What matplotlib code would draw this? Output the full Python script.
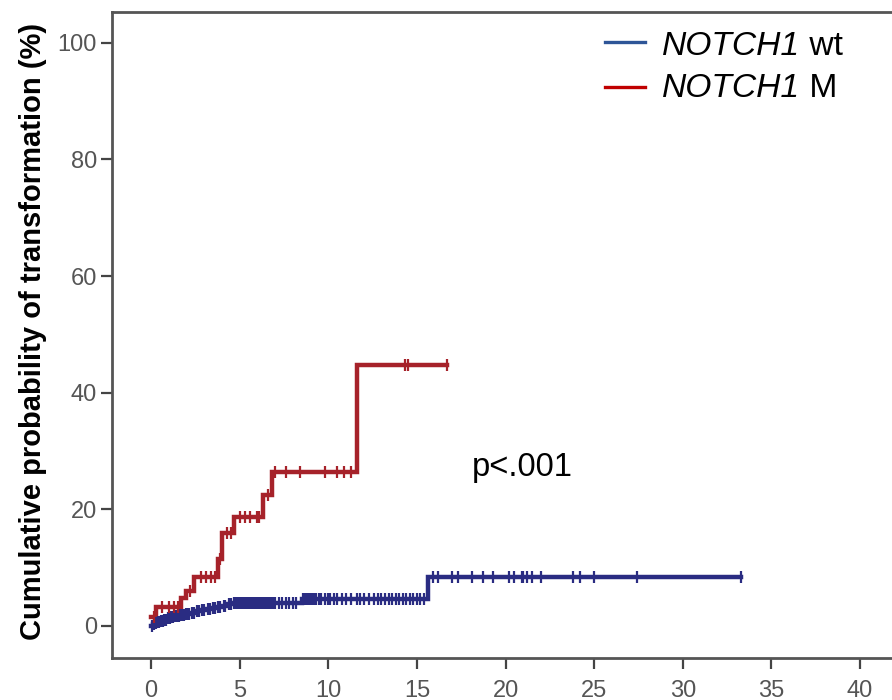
import matplotlib
matplotlib.use("Agg")
import matplotlib.pyplot as plt
import numpy as np

plt.rcParams['font.family'] = ['Liberation Sans', 'DejaVu Sans']

# NOTCH1 wt (blue) step curve: event times (years) and cumulative probability (%)
wt_times = [0.0, 0.1, 0.2, 0.35, 0.5, 0.7, 0.9, 1.1, 1.3, 1.6, 1.9, 2.2, 2.5, 2.8, 3.1, 3.4, 3.7, 4.0, 4.3, 4.6, 8.5, 15.6, 33.3]
wt_values = [0.0, 0.3, 0.5, 0.7, 0.9, 1.1, 1.3, 1.5, 1.7, 1.9, 2.1, 2.3, 2.5, 2.7, 2.9, 3.1, 3.3, 3.5, 3.7, 4.0, 4.7, 8.4, 8.4]
wt_censor = [0.05, 0.15, 0.25, 0.3, 0.4, 0.45, 0.55, 0.6, 0.65, 0.75, 0.8, 0.85, 0.95, 1.0, 1.05,
             1.15, 1.2, 1.25, 1.35, 1.4, 1.5, 1.55, 1.65, 1.7, 1.8, 1.85, 2.0, 2.1, 2.15, 2.3, 2.4,
             2.6, 2.7, 2.9, 3.0, 3.2, 3.3, 3.5, 3.6, 3.8, 3.9, 4.1, 4.2, 4.4, 4.5, 4.7, 4.8, 4.9,
             5.0, 5.1, 5.2, 5.3, 5.4, 5.5, 5.6, 5.7, 5.8, 5.9, 6.0, 6.1, 6.2, 6.3, 6.4, 6.5, 6.6,
             6.7, 6.8, 6.9, 7.0, 7.2, 7.4, 7.6, 7.8, 8.0, 8.2, 8.6, 8.7, 8.8, 8.9, 9.0, 9.1, 9.2,
             9.3, 9.5, 9.6, 9.8, 10.0, 10.1, 10.3, 10.5, 10.8, 11.0, 11.3, 11.6, 11.8, 12.0, 12.3,
             12.6, 12.8, 13.0, 13.2, 13.4, 13.6, 13.8, 14.0, 14.2, 14.4, 14.6, 14.8, 15.0, 15.2,
             15.4, 15.9, 16.2, 17.0, 17.3, 18.1, 18.7, 19.3, 20.2, 20.5, 20.9, 21.0, 21.2, 21.5,
             22.0, 23.8, 24.2, 25.0, 27.4, 33.3]

# NOTCH1 M (red) step curve
m_times = [0.0, 0.3, 1.7, 2.0, 2.4, 3.8, 4.0, 4.7, 6.3, 6.8, 11.6, 16.7]
m_values = [1.5, 3.2, 4.8, 6.0, 8.4, 11.5, 16.0, 18.7, 22.5, 26.4, 44.8, 44.8]
m_censor = [0.15, 0.6, 1.0, 1.3, 1.5, 2.2, 2.8, 3.1, 3.4, 3.6, 3.9, 4.3, 4.5, 5.0, 5.3, 5.6,
            6.0, 6.1, 6.6, 7.0, 7.6, 8.4, 9.8, 10.5, 10.9, 11.3, 14.3, 14.5, 16.7]

x_ticks = [0, 5, 10, 15, 20, 25, 30, 35, 40]
y_ticks = [0, 20, 40, 60, 80, 100]

legend_gene = 'NOTCH1'
legend_suffix = [' wt', ' M']
legend_colors = ['#2E5597', '#C00000']

blue = '#2A2C82'
red = '#A6222A'

fig = plt.figure(figsize=(8.92, 7.0), dpi=100)
ax = fig.add_axes([0.1256, 0.06, 0.8744, 0.923])


def value_at(times, values, t):
    idx = np.searchsorted(times, t, side='right') - 1
    return np.asarray(values)[np.clip(idx, 0, len(values) - 1)]


for times, values, censor, col in [(wt_times, wt_values, wt_censor, blue),
                                   (m_times, m_values, m_censor, red)]:
    ax.step(times, values, where='post', color=col, lw=3.2, solid_joinstyle='miter', zorder=3)
    ax.plot(censor, value_at(times, values, censor), linestyle='none', marker='|',
            markersize=9, markeredgewidth=1.6, color=col, zorder=4)

ax.set_xlim(-2.2, 41.8)
ax.set_ylim(-5.5, 105.3)
ax.set_xticks(x_ticks)
ax.set_yticks(y_ticks)
ax.tick_params(axis='both', direction='out', length=8, width=1.6, color='#444444',
               labelsize=17, labelcolor='#555555')
ax.tick_params(axis='x', pad=8)
ax.tick_params(axis='y', pad=3)
for s in ['left', 'bottom', 'top']:
    ax.spines[s].set_color('#555555')
    ax.spines[s].set_linewidth(2.0)
ax.spines['right'].set_visible(False)

ax.set_ylabel('Cumulative probability of transformation (%)', fontsize=21,
              fontweight='bold')
ax.yaxis.set_label_coords(-0.084, 0.506)

ax.text(20.96, 27.1, 'p<.001', fontsize=23.5, ha='center', va='center', color='black')

# manual legend (italic gene name followed by upright suffix)
line_y = [1 - 42 / 700, 1 - 87 / 700]
base_y = [1 - 55 / 700, 1 - 97 / 700]
fig.canvas.draw()
renderer = fig.canvas.get_renderer()
W = fig.get_figwidth() * fig.dpi
for i in range(2):
    fig.add_artist(plt.Line2D([605 / 892, 645 / 892], [line_y[i], line_y[i]],
                              color=legend_colors[i], lw=2.4, transform=fig.transFigure))
    t1 = fig.text(662 / 892, base_y[i], legend_gene, fontsize=24.2, style='italic',
                  va='baseline', ha='left')
    bb = t1.get_window_extent(renderer=renderer)
    fig.text(bb.x1 / W, base_y[i], legend_suffix[i], fontsize=24.2, va='baseline', ha='left')

fig.savefig('out.png', dpi=100)
